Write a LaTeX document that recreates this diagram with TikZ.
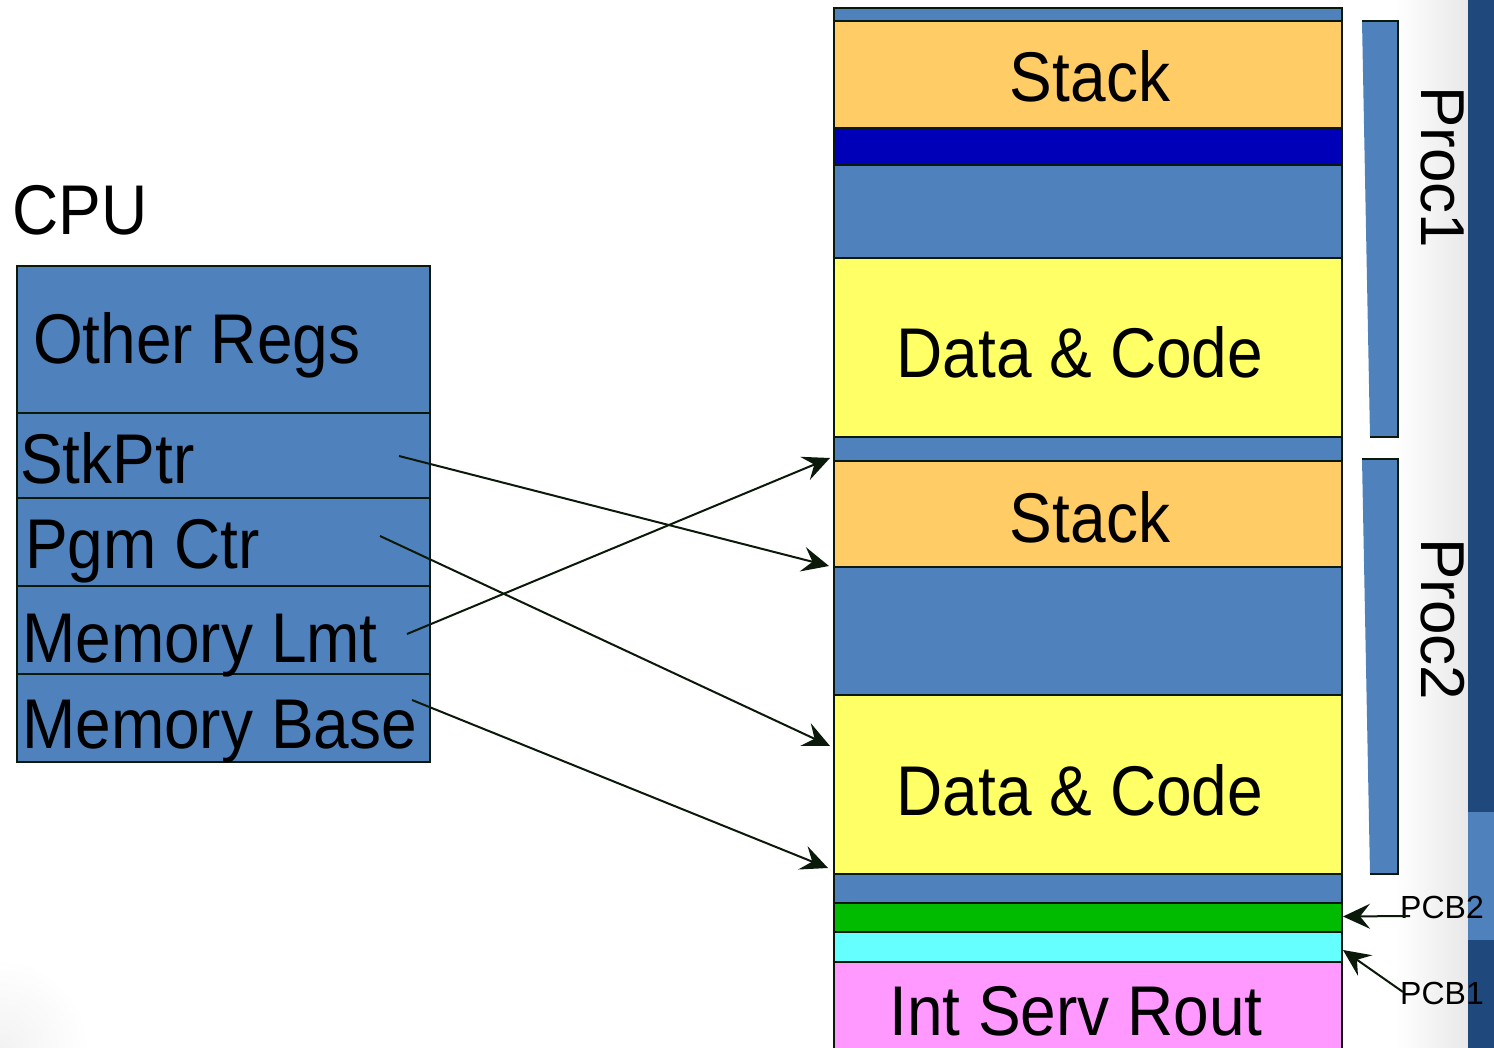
\documentclass[tikz,border=0pt]{standalone}
\usepackage{fontspec}
\setmainfont{Liberation Sans}
\usepackage{graphicx}
\usetikzlibrary{arrows.meta,calc}
\definecolor{bandblue}{HTML}{4F81BD}
\definecolor{stackor}{HTML}{FFCC66}
\definecolor{navyb}{RGB}{0,0,185}
\definecolor{codey}{HTML}{FFFF66}
\definecolor{pcbgreen}{RGB}{0,187,0}
\definecolor{pcbcyan}{HTML}{66FFFF}
\definecolor{isrpink}{HTML}{FF99FF}
\definecolor{edgec}{RGB}{10,25,10}
\definecolor{stripdark}{HTML}{1F497D}
\newcommand\vstretch[1]{\scalebox{1}[1.1]{#1}}
\tikzset{
  band/.style={draw=edgec, line width=2pt, minimum width=508pt, anchor=north west, inner sep=0pt, outer sep=0pt},
  reg/.style={draw=edgec, line width=1.5pt, fill=bandblue, minimum width=413pt, anchor=north west, inner sep=0pt, outer sep=0pt},
  big/.style={font=\fontsize{64}{70}\selectfont, inner sep=0pt, text=black},
  proclbl/.style={font=\fontsize{62}{66}\selectfont, inner sep=0pt, rotate=-90, text=black},
  pcblbl/.style={font=\fontsize{32}{36}\selectfont, inner sep=0pt, text=black},
  arr/.style={draw=edgec, line width=2pt, -{Stealth[length=27pt,width=25pt,inset=10pt]}},
  procbar/.style={fill=bandblue},
  procedge/.style={draw=edgec, line width=2pt},
}
\begin{document}
\begin{tikzpicture}[x=1pt,y=-1pt]
\clip (0,0) rectangle (1494,1048);
\useasboundingbox (0,0) rectangle (1494,1048);
% background
\fill[white] (0,0) rectangle (1494,1048);
\shade[left color=white, right color=black!9] (1395,0) rectangle (1468,1048);
\shade[inner color=black!5, outer color=white] (0,1048) circle (90);

% CPU
\node[big, anchor=base west] (cpu) at (12,235) {\vstretch{CPU}};
\node[reg, minimum height=147pt] (other) at (17,266) {};
\node[reg, minimum height=85pt] (stk) at (17,413) {};
\node[reg, minimum height=88pt] (pgm) at (17,498) {};
\node[reg, minimum height=88pt] (lmt) at (17,586) {};
\node[reg, minimum height=88pt] (base) at (17,674) {};
\node[big, anchor=base west] (tOther) at (33,364) {\vstretch{Other Regs}};
\node[big, anchor=base west] (tStk) at (20,483) {\vstretch{StkPtr}};
\node[big, anchor=base west] (tPgm) at (25,568) {\vstretch{Pgm Ctr}};
\node[big, anchor=base west] (tLmt) at (22,662) {\vstretch{Memory Lmt}};
\node[big, anchor=base west] (tBase) at (22,748) {\vstretch{Memory Base}};

% memory
\node[band, fill=bandblue, minimum height=13pt] (topb) at (834,8) {};
\node[band, fill=stackor, minimum height=107pt] (stack1) at (834,21) {};
\node[band, fill=navyb, minimum height=37pt] (gapA) at (834,128) {};
\node[band, fill=bandblue, minimum height=93pt] (free1) at (834,165) {};
\node[band, fill=codey, minimum height=179pt] (data1) at (834,258) {};
\node[band, fill=bandblue, minimum height=24pt] (gap2) at (834,437) {};
\node[band, fill=stackor, minimum height=106pt] (stack2) at (834,461) {};
\node[band, fill=bandblue, minimum height=128pt] (free2) at (834,567) {};
\node[band, fill=codey, minimum height=179pt] (data2) at (834,695) {};
\node[band, fill=bandblue, minimum height=29pt] (gap3) at (834,874) {};
\node[band, fill=pcbgreen, minimum height=29pt] (pcb2) at (834,903) {};
\node[band, fill=pcbcyan, minimum height=30pt] (pcb1) at (834,932) {};
\node[band, fill=isrpink, minimum height=100pt] (isr) at (834,962) {};

\node[big, anchor=base] (tStack1) at (1090,102) {\vstretch{Stack}};
\node[big, anchor=base] (tData1) at (1080,378) {\vstretch{Data \& Code}};
\node[big, anchor=base] (tStack2) at (1090,542) {\vstretch{Stack}};
\node[big, anchor=base] (tData2) at (1080,815) {\vstretch{Data \& Code}};
\node[big, anchor=base] (tIsr) at (1076,1035) {\vstretch{Int Serv Rout}};

% process bars
\fill[procbar] (1362,21) -- (1398,21) -- (1398,437) -- (1370,437) -- cycle;
\draw[procedge] (1362,21) -- (1398,21) -- (1398,437) -- (1370,437);
\fill[procbar] (1362,459) -- (1398,459) -- (1398,874) -- (1370,874) -- cycle;
\draw[procedge] (1362,459) -- (1398,459) -- (1398,874) -- (1370,874);
\node[proclbl, anchor=base west] (tProc1) at (1421,86) {Proc1};
\node[proclbl, anchor=base west] (tProc2) at (1421,538) {Proc2};

% right strip
\fill[stripdark] (1468,0) rectangle (1494,1048);
\fill[bandblue] (1468,812) rectangle (1494,940);

% PCB labels
\node[pcblbl, anchor=base west] (lPcb2) at (1400,918) {PCB2};
\node[pcblbl, anchor=base west] (lPcb1) at (1400,1004) {PCB1};

% connectors
\coordinate (spS) at (399,456);
\coordinate (pcS) at (380,536);
\coordinate (lmS) at (407,634);
\coordinate (bsS) at (412,700);
\draw[arr] (spS) -- ([xshift=-5pt,yshift=1pt]stack2.south west);
\draw[arr] (pcS) -- ([xshift=-4pt,yshift=-51pt]data2.north west);
\draw[arr] (lmS) -- ([xshift=-4pt,yshift=3pt]gap2.south west);
\draw[arr] (bsS) -- ([xshift=-6pt,yshift=6pt]data2.south west);

\coordinate (p2S) at (1410,916);
\coordinate (p1S) at (1403,992);
\draw[arr] (p2S) -- ([xshift=1pt,yshift=1pt]pcb2.east);
\draw[arr] (p1S) -- ([xshift=1pt,yshift=-3pt]pcb1.east);
\end{tikzpicture}
\end{document}
